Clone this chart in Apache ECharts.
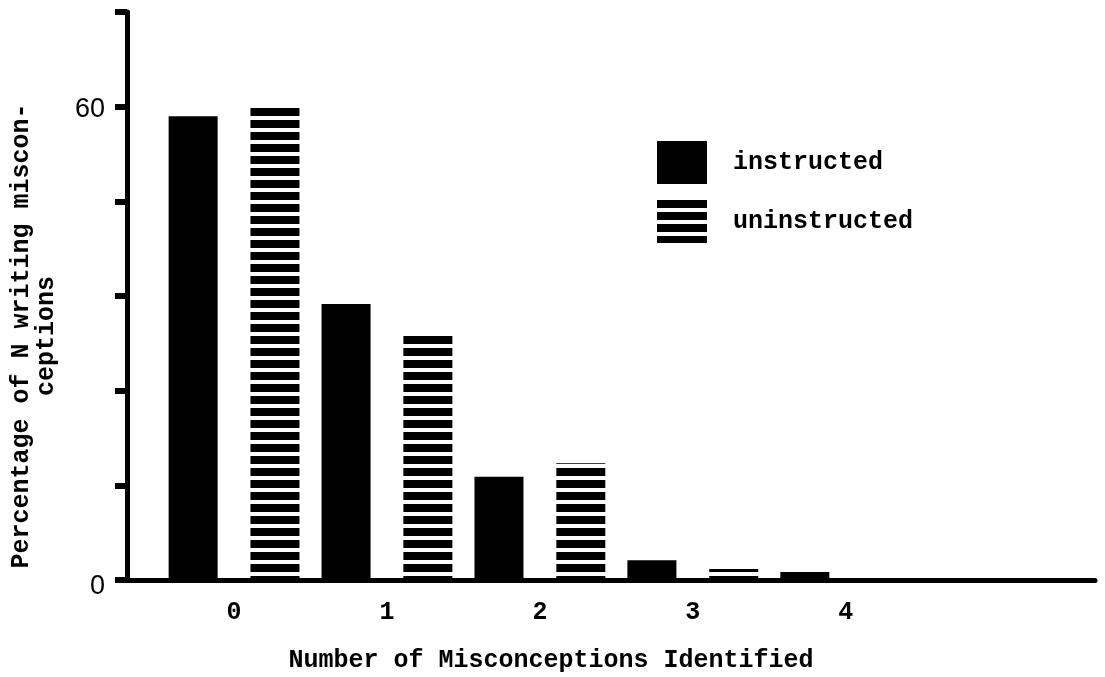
<!DOCTYPE html>
<html>
<head>
<meta charset="utf-8">
<script src="https://cdn.jsdelivr.net/npm/echarts@6/dist/echarts.min.js"></script>
<style>
  html, body { margin: 0; padding: 0; background: #ffffff; }
  #chart { width: 1105px; height: 677px; }
</style>
</head>
<body>
<div id="chart"></div>
<script>
// Number of misconceptions identified (x positions of the bar pairs)
const misconceptionCounts = [0, 1, 2, 3, 4];
// Percentage of N writing misconceptions
const instructed = [58.8, 35.0, 13.1, 2.5, 1.0];
const uninstructed = [59.9, 31.1, 14.8, 1.4, 0];
// Only these y values carry a printed label
const yTickLabels = [0, 60];
const seriesNames = ['instructed', 'uninstructed'];

const mono = '"Liberation Mono", "DejaVu Sans Mono", monospace';

// Horizontal hatching used for the "uninstructed" bars
function stripePattern() {
  const c = document.createElement('canvas');
  c.width = 8;
  c.height = 12;
  const ctx = c.getContext('2d');
  ctx.fillStyle = '#ffffff';
  ctx.fillRect(0, 0, 8, 12);
  ctx.fillStyle = '#000000';
  ctx.fillRect(0, 0, 8, 8);
  return c;
}
const stripes = { image: stripePattern(), repeat: 'repeat' };

const chart = echarts.init(document.getElementById('chart'), null, { renderer: 'canvas' });

chart.setOption({
  backgroundColor: '#ffffff',
  animation: false,
  grid: { left: 127, right: 10, top: 12, bottom: 97 },
  legend: {
    orient: 'vertical',
    left: 652,
    top: 136,
    itemWidth: 50,
    itemHeight: 43,
    itemGap: 16,
    icon: 'rect',
    data: seriesNames,
    textStyle: {
      fontFamily: mono,
      fontWeight: 'bold',
      fontSize: 25,
      color: '#000',
      padding: [8, 0, 0, 21]
    }
  },
  xAxis: {
    type: 'value',
    min: -0.7,
    max: 5.63,
    splitLine: { show: false },
    axisTick: { show: false },
    axisLine: { show: true, onZero: true, lineStyle: { color: '#000', width: 5 } },
    axisLabel: {
      customValues: misconceptionCounts,
      margin: 20,
      fontFamily: mono,
      fontWeight: 'bold',
      fontSize: 25,
      color: '#000'
    }
  },
  yAxis: {
    type: 'value',
    min: 0,
    max: 72,
    interval: 12,
    splitLine: { show: false },
    axisLine: { show: true, onZero: false, lineStyle: { color: '#000', width: 5 } },
    axisTick: { show: true, inside: false, length: 12, lineStyle: { color: '#000', width: 6 } },
    axisLabel: {
      margin: 22,
      color: '#000',
      formatter: v => {
        if (yTickLabels.indexOf(v) < 0) return '';
        return v === 0 ? '{zero|' + v + '}' : '{top|' + v + '}';
      },
      rich: {
        top: {
          fontFamily: '"Liberation Sans", Arial, sans-serif',
          fontSize: 27,
          color: '#000',
          padding: [6, 0, 0, 0]
        },
        zero: {
          fontFamily: '"Liberation Sans", Arial, sans-serif',
          fontSize: 27,
          color: '#000',
          padding: [14, 0, 0, 0]
        }
      }
    }
  },
  series: [
    {
      name: seriesNames[0],
      type: 'bar',
      barWidth: 49,
      barGap: '67%',
      itemStyle: { color: '#000000' },
      data: misconceptionCounts.map((x, i) => [x, instructed[i]])
    },
    {
      name: seriesNames[1],
      type: 'bar',
      barWidth: 49,
      barGap: '67%',
      itemStyle: { color: stripes },
      data: misconceptionCounts.map((x, i) => [x, uninstructed[i]])
    }
  ],
  graphic: [
    {
      type: 'text',
      x: 34,
      y: 336,
      rotation: Math.PI / 2,
      style: {
        text: 'Percentage of N writing miscon-\nceptions',
        font: 'bold 25px ' + mono,
        fill: '#000',
        textAlign: 'center',
        textVerticalAlign: 'middle',
        lineHeight: 25
      }
    },
    {
      type: 'text',
      x: 551,
      y: 661,
      style: {
        text: 'Number of Misconceptions Identified',
        font: 'bold 25px ' + mono,
        fill: '#000',
        textAlign: 'center',
        textVerticalAlign: 'middle'
      }
    }
  ]
});
</script>
</body>
</html>
